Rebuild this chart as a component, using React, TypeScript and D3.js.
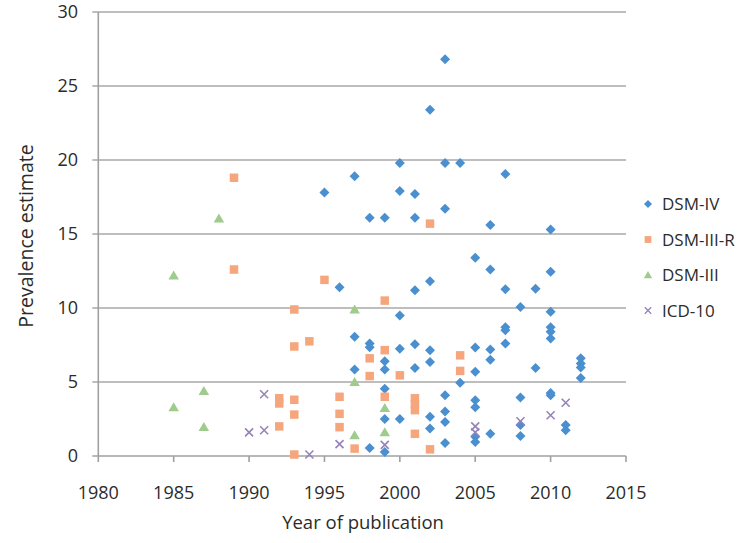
import React, { useRef, useEffect } from 'react';
import * as d3 from 'd3';

// [year, prevalence] pairs
const dsmIV: [number, number][] = [
  [1995, 17.8], [1996, 11.4],
  [1997, 18.9], [1997, 8.05], [1997, 5.85],
  [1998, 16.1], [1998, 7.6], [1998, 7.35], [1998, 0.54],
  [1999, 16.1], [1999, 6.4], [1999, 5.85], [1999, 4.55], [1999, 2.5], [1999, 0.27],
  [2000, 19.8], [2000, 17.9], [2000, 9.5], [2000, 7.25], [2000, 2.5],
  [2001, 17.7], [2001, 16.1], [2001, 11.2], [2001, 7.55], [2001, 5.95],
  [2002, 23.4], [2002, 11.8], [2002, 7.15], [2002, 6.35], [2002, 2.65], [2002, 1.85],
  [2003, 26.8], [2003, 19.8], [2003, 16.7], [2003, 4.1], [2003, 3.0], [2003, 2.3], [2003, 0.88],
  [2004, 19.8], [2004, 4.95],
  [2005, 13.4], [2005, 7.33], [2005, 5.7], [2005, 3.77], [2005, 3.3], [2005, 1.3], [2005, 0.95],
  [2006, 15.6], [2006, 12.6], [2006, 7.2], [2006, 6.5], [2006, 1.5],
  [2007, 19.05], [2007, 11.27], [2007, 8.7], [2007, 8.5], [2007, 7.6],
  [2008, 10.07], [2008, 3.95], [2008, 2.1], [2008, 1.35],
  [2009, 11.3], [2009, 5.95],
  [2010, 15.3], [2010, 12.45], [2010, 9.74], [2010, 8.7], [2010, 8.4], [2010, 7.94], [2010, 4.26], [2010, 4.1],
  [2011, 2.1], [2011, 1.74],
  [2012, 6.6], [2012, 6.25], [2012, 5.98], [2012, 5.27],
];
const dsmIIIR: [number, number][] = [
  [1989, 18.8], [1989, 12.6],
  [1992, 3.9], [1992, 3.55], [1992, 2.0],
  [1993, 9.9], [1993, 7.4], [1993, 3.8], [1993, 2.8], [1993, 0.1],
  [1994, 7.75], [1995, 11.9],
  [1996, 4.0], [1996, 2.85], [1996, 1.95],
  [1997, 0.5],
  [1998, 6.6], [1998, 5.4],
  [1999, 10.5], [1999, 7.15], [1999, 4.0],
  [2000, 5.45],
  [2001, 3.9], [2001, 3.5], [2001, 3.1], [2001, 1.5],
  [2002, 15.7], [2002, 0.45],
  [2004, 6.8], [2004, 5.75],
];
const dsmIII: [number, number][] = [
  [1985, 12.2], [1985, 3.3],
  [1987, 4.4], [1987, 1.96],
  [1988, 16.05],
  [1997, 9.9], [1997, 5.0], [1997, 1.4],
  [1999, 3.25], [1999, 1.6],
];
const icd10: [number, number][] = [
  [1990, 1.6], [1991, 4.17], [1991, 1.74],
  [1994, 0.1], [1996, 0.8], [1999, 0.75],
  [2005, 2.0], [2005, 1.6],
  [2008, 2.35], [2010, 2.75], [2011, 3.6],
];

const seriesNames = ['DSM-IV', 'DSM-III-R', 'DSM-III', 'ICD-10'];
const xTicks = [1980, 1985, 1990, 1995, 2000, 2005, 2010, 2015];
const yTicks = [0, 5, 10, 15, 20, 25, 30];

const width = 755;
const height = 543;
const font = '"Open Sans", Lato, sans-serif';
const textColor = '#2b2b2b';

const colors = ['#4a8fd0', '#f5a67c', '#9fcb8c', '#9583b8'];

// marker paths, r is half size
const markerPath = (kind: number, r: number) => {
  if (kind === 0) return `M0,${-r}L${r},0L0,${r}L${-r},0Z`;
  if (kind === 1) return `M${-r * 0.85},${-r * 0.85}h${r * 1.7}v${r * 1.7}h${-r * 1.7}Z`;
  if (kind === 2) return `M0,${-r}L${r * 1.05},${r * 0.8}L${-r * 1.05},${r * 0.8}Z`;
  return `M${-r * 0.8},${-r * 0.8}L${r * 0.8},${r * 0.8}M${-r * 0.8},${r * 0.8}L${r * 0.8},${-r * 0.8}`;
};

export default function App() {
  const ref = useRef<SVGSVGElement>(null);

  useEffect(() => {
    const svg = d3.select(ref.current);
    svg.selectAll('*').remove();

    const x = d3.scaleLinear().domain([1980, 2015]).range([98.3, 626]);
    const y = d3.scaleLinear().domain([0, 30]).range([456, 12]);

    // grid
    svg
      .append('g')
      .selectAll('line')
      .data(yTicks.filter(d => d > 0))
      .enter()
      .append('line')
      .attr('x1', x(1980) - 6)
      .attr('x2', x(2015))
      .attr('y1', d => y(d))
      .attr('y2', d => y(d))
      .attr('stroke', '#a8a8a8')
      .attr('stroke-width', 1.6);

    // axes
    const axisColor = '#a0a0a0';
    svg
      .append('line')
      .attr('x1', x(1980)).attr('x2', x(1980))
      .attr('y1', y(30)).attr('y2', y(0))
      .attr('stroke', axisColor).attr('stroke-width', 1.6);
    svg
      .append('line')
      .attr('x1', x(1980) - 6).attr('x2', x(2015))
      .attr('y1', y(0)).attr('y2', y(0))
      .attr('stroke', axisColor).attr('stroke-width', 1.6);
    svg
      .append('g')
      .selectAll('line')
      .data(xTicks)
      .enter()
      .append('line')
      .attr('x1', d => x(d)).attr('x2', d => x(d))
      .attr('y1', y(0)).attr('y2', y(0) + 6)
      .attr('stroke', axisColor).attr('stroke-width', 1.6);

    // tick labels
    svg
      .append('g')
      .selectAll('text')
      .data(yTicks)
      .enter()
      .append('text')
      .attr('x', 78)
      .attr('y', d => y(d))
      .attr('dy', '0.36em')
      .attr('text-anchor', 'end')
      .attr('font-family', font)
      .attr('font-size', 18)
      .attr('fill', textColor)
      .text(d => d);
    svg
      .append('g')
      .selectAll('text')
      .data(xTicks)
      .enter()
      .append('text')
      .attr('x', d => x(d))
      .attr('y', 499)
      .attr('text-anchor', 'middle')
      .attr('font-family', font)
      .attr('font-size', 18)
      .attr('fill', textColor)
      .text(d => d);

    // axis titles
    svg
      .append('text')
      .attr('x', 363)
      .attr('y', 529)
      .attr('text-anchor', 'middle')
      .attr('font-family', font)
      .attr('font-size', 18.5)
      .attr('fill', textColor)
      .text('Year of publication');
    svg
      .append('text')
      .attr('transform', 'translate(33,236) rotate(-90)')
      .attr('text-anchor', 'middle')
      .attr('font-family', font)
      .attr('font-size', 19.5)
      .attr('fill', textColor)
      .text('Prevalence estimate');

    // points
    const all = [dsmIV, dsmIIIR, dsmIII, icd10];
    all.forEach((data, i) => {
      const g = svg.append('g');
      g.selectAll('path')
        .data(data)
        .enter()
        .append('path')
        .attr('transform', d => `translate(${x(d[0])},${y(d[1])})`)
        .attr('d', markerPath(i, 5))
        .attr('fill', i === 3 ? 'none' : colors[i])
        .attr('stroke', i === 3 ? colors[i] : 'none')
        .attr('stroke-width', 1.6);
    });

    // legend
    const legend = svg
      .append('g')
      .selectAll('g')
      .data(seriesNames)
      .enter()
      .append('g')
      .attr('transform', (d, i) => `translate(648,${204 + i * 35.5})`);
    legend
      .append('path')
      .attr('d', (d, i) => markerPath(i, 4))
      .attr('fill', (d, i) => (i === 3 ? 'none' : colors[i]))
      .attr('stroke', (d, i) => (i === 3 ? colors[i] : 'none'))
      .attr('stroke-width', 1.3);
    legend
      .append('text')
      .attr('x', 14)
      .attr('dy', '0.36em')
      .attr('font-family', font)
      .attr('font-size', 17)
      .attr('fill', textColor)
      .text(d => d);
  }, []);

  return (
    <svg
      ref={ref}
      width={width}
      height={height}
      style={{ position: 'absolute', left: 0, top: 0, background: '#fff' }}
    />
  );
}
